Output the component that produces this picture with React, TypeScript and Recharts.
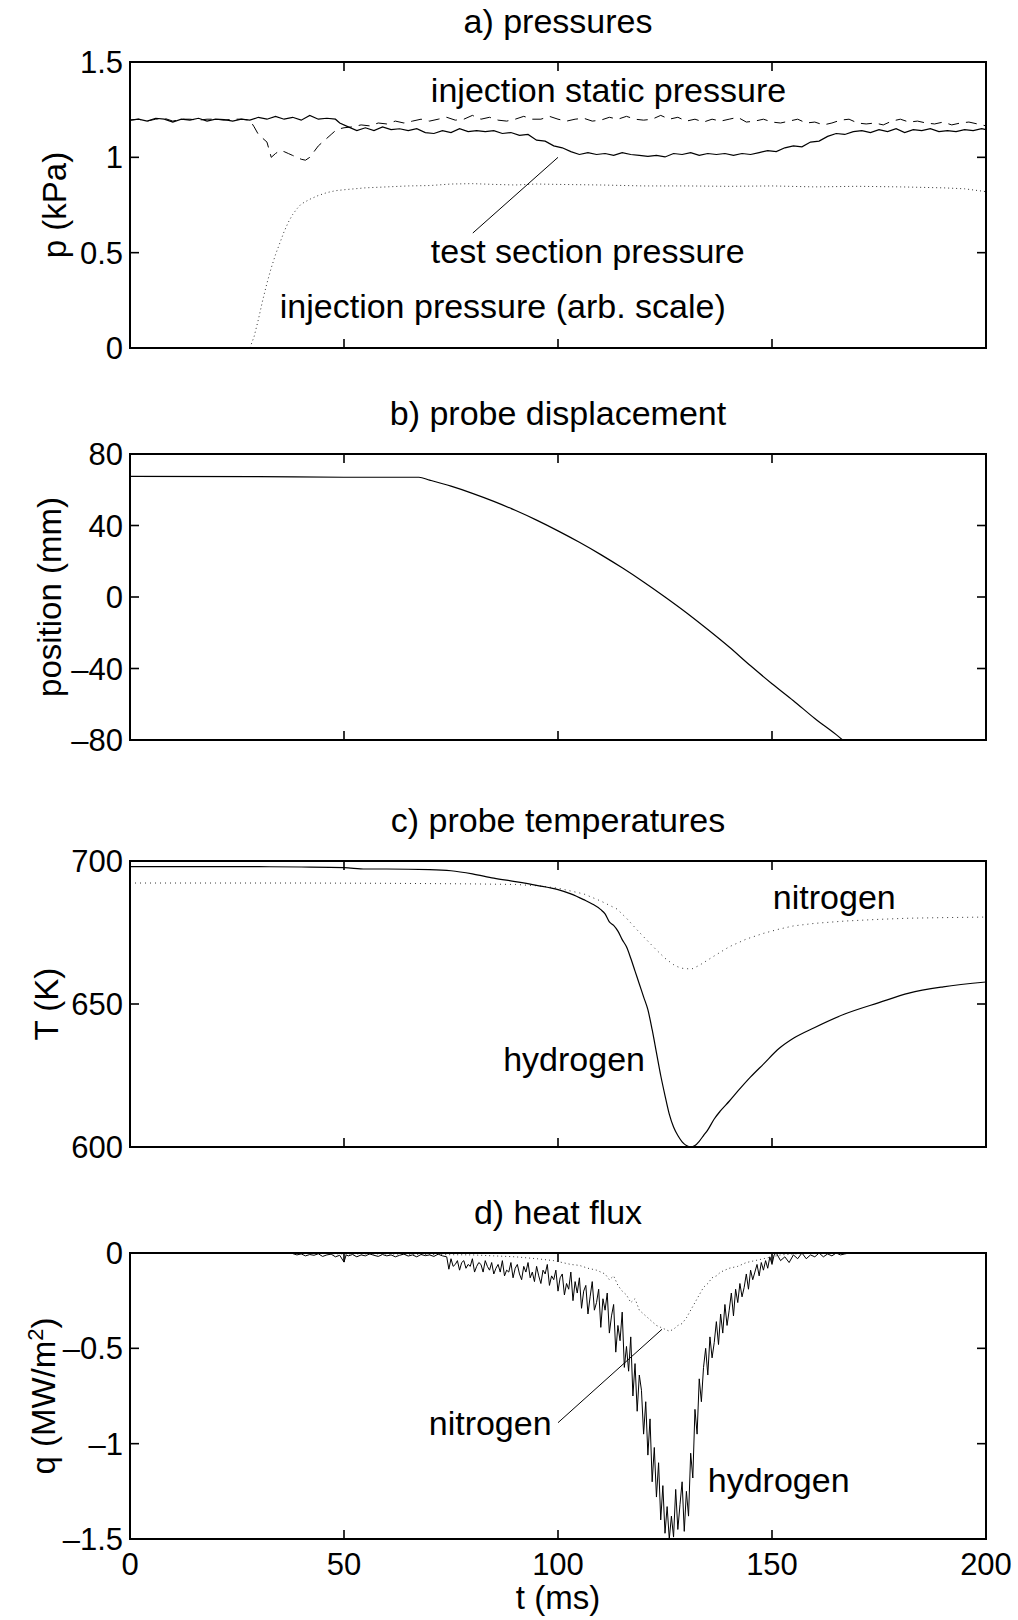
import React from 'react';
import { LineChart, Line, XAxis, YAxis, ReferenceLine, ReferenceDot } from 'recharts';

const FONT = '"Liberation Sans", Arial, Helvetica, sans-serif';

// axis ticks
const timeTicks = [0, 50, 100, 150, 200];
const pressureTicks = [0, 0.5, 1, 1.5];
const positionTicks = [-80, -40, 0, 40, 80];
const tempTicks = [600, 650, 700];
const fluxTicks = [-1.5, -1, -0.5, 0];

// a) pressures  [t (ms), p (kPa)]
const testSection = [
  [0, 1.195], [2, 1.2], [4, 1.19], [6, 1.205], [8, 1.2], [10, 1.185], [12, 1.2], [14, 1.195], [16, 1.205],
  [18, 1.19], [20, 1.2], [22, 1.198], [24, 1.19], [26, 1.2], [28, 1.195], [30, 1.21], [32, 1.2], [34, 1.215],
  [36, 1.2], [38, 1.21], [40, 1.195], [42, 1.22], [44, 1.2], [46, 1.205], [48, 1.2], [49, 1.18], [51, 1.16],
  [53, 1.14], [55, 1.155], [57, 1.14], [59, 1.16], [61, 1.145], [63, 1.15], [65, 1.14], [67, 1.15], [69, 1.13],
  [71, 1.125], [73, 1.14], [75, 1.13], [77, 1.15], [79, 1.135], [81, 1.14], [83, 1.135], [85, 1.14], [87, 1.125],
  [89, 1.13], [91, 1.115], [93, 1.12], [95, 1.09], [97, 1.085], [99, 1.06], [101, 1.05], [103, 1.03], [105, 1.015],
  [107, 1.025], [109, 1.015], [111, 1.02], [113, 1.01], [115, 1.025], [117, 1.015], [119, 1.01], [121, 1.005],
  [123, 1.01], [125, 1.002], [127, 1.02], [129, 1.015], [131, 1.025], [133, 1.01], [135, 1.02], [137, 1.015],
  [139, 1.02], [141, 1.01], [143, 1.02], [145, 1.015], [147, 1.025], [149, 1.035], [151, 1.03], [153, 1.05],
  [155, 1.06], [157, 1.055], [159, 1.08], [161, 1.085], [163, 1.11], [165, 1.125], [167, 1.12], [169, 1.135],
  [171, 1.14], [173, 1.13], [175, 1.145], [177, 1.135], [179, 1.15], [181, 1.13], [183, 1.145], [185, 1.14],
  [187, 1.15], [189, 1.135], [191, 1.14], [193, 1.135], [195, 1.145], [197, 1.14], [199, 1.15], [200, 1.145],
];
const injectionStatic = [
  [0, 1.195], [2, 1.2], [4, 1.19], [6, 1.2], [8, 1.205], [10, 1.19], [12, 1.2], [14, 1.2], [16, 1.195],
  [18, 1.2], [20, 1.2], [22, 1.195], [24, 1.2], [26, 1.2], [28, 1.195], [29, 1.16], [30, 1.12], [31, 1.1],
  [32, 1.08], [33, 1.0], [34, 1.02], [35, 1.035], [36, 1.03], [37, 1.02], [38, 1.01], [39, 1.0], [40, 0.99],
  [41, 0.985], [42, 1.0], [43, 1.03], [44, 1.06], [45, 1.08], [46, 1.1], [47, 1.12], [48, 1.14], [49, 1.15],
  [50, 1.155], [52, 1.16], [54, 1.17], [56, 1.165], [58, 1.18], [60, 1.175], [62, 1.19], [64, 1.18], [66, 1.19],
  [68, 1.2], [70, 1.19], [72, 1.2], [74, 1.21], [76, 1.195], [78, 1.2], [80, 1.22], [82, 1.2], [84, 1.21],
  [86, 1.195], [88, 1.19], [90, 1.2], [92, 1.215], [94, 1.2], [96, 1.2], [98, 1.215], [100, 1.2], [102, 1.19],
  [104, 1.2], [106, 1.205], [108, 1.19], [110, 1.195], [112, 1.21], [114, 1.2], [116, 1.215], [118, 1.2],
  [120, 1.195], [122, 1.2], [124, 1.22], [126, 1.2], [128, 1.21], [130, 1.19], [132, 1.2], [134, 1.185],
  [136, 1.2], [138, 1.19], [140, 1.2], [142, 1.21], [144, 1.185], [146, 1.19], [148, 1.2], [150, 1.185],
  [152, 1.18], [154, 1.19], [156, 1.2], [158, 1.18], [160, 1.185], [162, 1.17], [164, 1.18], [166, 1.195],
  [168, 1.2], [170, 1.18], [172, 1.175], [174, 1.18], [176, 1.17], [178, 1.19], [180, 1.2], [182, 1.185],
  [184, 1.19], [186, 1.18], [188, 1.175], [190, 1.185], [192, 1.17], [194, 1.18], [196, 1.185], [198, 1.175],
  [200, 1.165],
];
const injectionArb = [
  [0, 0], [10, 0], [20, 0], [28, 0], [29, 0.06], [30, 0.15], [31, 0.25], [32, 0.34], [33, 0.42], [34, 0.49],
  [35, 0.55], [36, 0.61], [37, 0.66], [38, 0.7], [39, 0.73], [40, 0.755], [42, 0.78], [44, 0.8], [46, 0.815],
  [48, 0.825], [50, 0.83], [55, 0.84], [60, 0.845], [65, 0.85], [70, 0.852], [75, 0.86], [80, 0.862],
  [85, 0.858], [90, 0.855], [95, 0.86], [100, 0.858], [110, 0.855], [120, 0.85], [130, 0.85], [140, 0.848],
  [150, 0.85], [160, 0.845], [170, 0.848], [180, 0.845], [190, 0.84], [195, 0.835], [200, 0.82],
];

// b) probe displacement  [t (ms), position (mm)]
const probePosition = [
  [0, 67.5], [30, 67.3], [50, 67], [67.5, 67], [70, 65.4], [75, 62], [80, 58], [85, 53.5], [90, 48.5],
  [95, 43], [100, 37], [105, 30.6], [110, 23.7], [115, 16.3], [120, 8.4], [125, 0], [130, -8.8], [135, -18.2],
  [140, -28], [145, -38.5], [150, -48.5], [155, -58], [160, -68], [165, -77], [166.5, -80],
];

// c) probe temperatures  [t (ms), T (K)]
const tempHydrogen = [
  [0, 698], [10, 698], [20, 698], [30, 698], [40, 697.9], [50, 697.7], [55, 697.2], [60, 697.2], [70, 697],
  [75, 696.6], [80, 695.5], [85, 694], [90, 692.8], [95, 691.5], [100, 690], [103, 688.5], [106, 686.5],
  [108, 685], [110, 683], [111, 681.5], [112, 678.7], [113, 677.5], [114, 675.5], [115, 672.5], [116, 670],
  [117, 666], [118, 661.5], [119, 657], [120, 652.5], [121, 648], [122, 641], [123, 633], [124, 625], [125, 618],
  [126, 611.5], [127, 607], [128, 604], [129, 601.8], [130, 600.5], [131, 600], [132, 600.5], [133, 602],
  [134, 604], [135, 606], [136.5, 609.8], [138, 612.7], [140, 616], [142, 619.5], [145, 624.5], [148, 629],
  [151.7, 634.5], [155, 638], [160, 641.8], [167, 646.5], [175, 650.5], [182, 653.8], [190, 656], [200, 657.7],
];
const tempNitrogen = [
  [0, 692.3], [20, 692.3], [40, 692.3], [60, 692.2], [80, 692], [90, 691.8], [95.6, 691.3], [100, 690.5],
  [103, 689.5], [106, 688.5], [110, 686], [113.8, 683.2], [116, 680], [118.3, 676.2], [120, 673.5],
  [122.8, 669.2], [125, 666], [127.4, 663.3], [129, 662.5], [131.2, 662.2], [133, 663.5], [136.5, 666.8],
  [140, 670], [144, 672.7], [148, 674.7], [151.7, 676.2], [155, 677.3], [160, 678.2], [167, 679],
  [175, 679.6], [182, 680], [190, 680.2], [200, 680.4],
];

// d) heat flux  [t (ms), q (MW/m2)]
const fluxHydrogen = [
  [38, -0.003], [39, -0.01], [40, -0.005], [41, -0.015], [42, -0.008], [43, -0.012], [44, -0.004], [45, -0.018],
  [46, -0.01], [47, -0.006], [48, -0.02], [49, -0.012], [50, -0.048], [50.5, -0.01], [51, -0.015], [52, -0.008],
  [53, -0.02], [54, -0.01], [55, -0.015], [56, -0.005], [57, -0.012], [58, -0.018], [59, -0.008], [60, -0.015],
  [61, -0.01], [62, -0.02], [63, -0.012], [64, -0.006], [65, -0.016], [66, -0.01], [67, -0.02], [68, -0.008],
  [69, -0.014], [70, -0.01], [71, -0.018], [72, -0.006], [73, -0.015], [74, -0.02], [74.5, -0.085], [75, -0.03],
  [75.5, -0.07], [76, -0.06], [76.5, -0.04], [77, -0.09], [77.5, -0.05], [78, -0.04], [78.5, -0.08], [79, -0.06],
  [79.5, -0.07], [80, -0.03], [80.5, -0.1], [81, -0.07], [81.5, -0.05], [82, -0.06], [82.5, -0.1], [83, -0.04],
  [83.5, -0.07], [84, -0.09], [84.5, -0.05], [85, -0.11], [85.5, -0.08], [86, -0.06], [86.5, -0.1], [87, -0.04],
  [87.5, -0.12], [88, -0.09], [88.5, -0.1], [89, -0.05], [89.5, -0.13], [90, -0.08], [90.5, -0.06], [91, -0.11],
  [91.5, -0.14], [92, -0.07], [92.5, -0.1], [93, -0.05], [93.5, -0.13], [94, -0.1], [94.5, -0.15], [95, -0.07],
  [95.5, -0.12], [96, -0.16], [96.5, -0.09], [97, -0.11], [97.5, -0.06], [98, -0.17], [98.5, -0.12], [99, -0.14],
  [99.5, -0.09], [100, -0.2], [100.5, -0.13], [101, -0.11], [101.5, -0.22], [102, -0.16], [102.5, -0.19],
  [103, -0.1], [103.5, -0.25], [104, -0.15], [104.5, -0.21], [105, -0.13], [105.5, -0.29], [106, -0.2],
  [106.5, -0.17], [107, -0.32], [107.5, -0.23], [108, -0.15], [108.5, -0.3], [109, -0.26], [109.5, -0.19],
  [110, -0.39], [110.5, -0.24], [111, -0.3], [111.5, -0.21], [112, -0.42], [112.5, -0.33], [113, -0.27],
  [113.5, -0.52], [114, -0.38], [114.5, -0.46], [115, -0.31], [115.5, -0.6], [116, -0.49], [116.5, -0.62],
  [117, -0.44], [117.5, -0.75], [118, -0.58], [118.5, -0.83], [119, -0.64], [119.5, -0.72], [120, -0.95],
  [120.5, -0.78], [121, -1.06], [121.5, -0.87], [122, -1.2], [122.5, -1.02], [123, -1.28], [123.5, -1.1],
  [124, -1.4], [124.5, -1.22], [125, -1.47], [125.5, -1.33], [126, -1.5], [126.5, -1.38], [127, -1.49],
  [127.5, -1.24], [128, -1.45], [128.5, -1.32], [129, -1.2], [129.5, -1.46], [130, -1.25], [130.5, -1.38],
  [131, -1.05], [131.5, -1.18], [132, -0.82], [132.5, -0.95], [133, -0.66], [133.5, -0.78], [134, -0.6],
  [134.5, -0.5], [135, -0.64], [135.5, -0.44], [136, -0.55], [136.5, -0.47], [137, -0.36], [137.5, -0.48],
  [138, -0.32], [138.5, -0.42], [139, -0.27], [139.5, -0.38], [140, -0.3], [140.5, -0.21], [141, -0.33],
  [141.5, -0.19], [142, -0.26], [142.5, -0.16], [143, -0.23], [143.5, -0.18], [144, -0.11], [144.5, -0.19],
  [145, -0.09], [145.5, -0.14], [146, -0.1], [146.5, -0.06], [147, -0.12], [147.5, -0.05], [148, -0.09],
  [148.5, -0.04], [149, -0.08], [149.5, -0.02], [150, -0.06], [150.5, -0.01], [151, 0], [152, -0.04],
  [153, -0.02], [154, -0.05], [155, -0.01], [156, -0.03], [157, 0], [158, -0.03], [159, -0.01], [160, -0.02],
  [161, 0], [162, -0.02], [163, -0.005], [164, -0.015], [165, 0], [166, -0.01], [167, -0.005], [168, 0],
];
const fluxNitrogen = [
  [40, 0], [50, -0.005], [60, -0.005], [70, -0.008], [80, -0.01], [85, -0.015], [90, -0.02], [95, -0.03],
  [99, -0.04], [101, -0.05], [103, -0.06], [105, -0.065], [107, -0.08], [109, -0.09], [111, -0.11],
  [112, -0.14], [113, -0.12], [114, -0.17], [115, -0.2], [116, -0.22], [117, -0.26], [118, -0.24], [119, -0.3],
  [120, -0.32], [121, -0.34], [122, -0.36], [123, -0.38], [124, -0.39], [125, -0.4], [126, -0.41], [127, -0.4],
  [128, -0.38], [129, -0.37], [130, -0.34], [131, -0.3], [132, -0.26], [133, -0.22], [134, -0.18], [135, -0.16],
  [136, -0.13], [137, -0.12], [138, -0.1], [140, -0.08], [142, -0.07], [144, -0.05], [146, -0.04], [148, -0.03],
  [150, -0.02], [152, -0.01], [155, -0.005], [160, 0], [168, 0],
];

// text notes  [t, value, text]
const notesA: [number, number, string][] = [
  [70.3, 1.29, 'injection static pressure'],
  [70.3, 0.445, 'test section pressure'],
  [35, 0.155, 'injection pressure (arb. scale)'],
];
const notesC: [number, number, string][] = [
  [150.2, 683.3, 'nitrogen'],
  [87.2, 626.7, 'hydrogen'],
];
const notesD: [number, number, string][] = [
  [69.8, -0.955, 'nitrogen'],
  [135, -1.252, 'hydrogen'],
];
const leaderA = [{ x: 80.1, y: 0.603 }, { x: 100, y: 1.0 }];
const leaderD = [{ x: 100, y: -0.89 }, { x: 124.3, y: -0.4 }];

const pts = (arr: number[][]) => arr.map(([t, v]) => ({ t, v }));
const fmt = (v: number) => String(v).replace('-', '\u2013');

const W = 1018;
const PLOT_W = 856;
const PLOT_H = 286;
const TOP = 61; // + 1px top axis
const TICK = 9; // inward tick length, px

const yTick = (p: any) => (
  <text x={p.x} y={p.y} dy={11} textAnchor="end" fontSize={31} fontFamily={FONT} fill="#000">
    {fmt(p.payload.value)}
  </text>
);
const xTick = (p: any) => (
  <text x={p.x} y={p.y} dy={26} textAnchor="middle" fontSize={31} fontFamily={FONT} fill="#000">
    {fmt(p.payload.value)}
  </text>
);

const yLabel = (content: React.ReactNode, bx: number) => (p: any) => {
  const vb = p.viewBox;
  const cy = vb.y + vb.height / 2;
  return (
    <text x={bx} y={cy} transform={`rotate(-90 ${bx} ${cy})`} textAnchor="middle" fontSize={33} fontFamily={FONT} fill="#000">
      {content}
    </text>
  );
};

const xLabel = (p: any) => {
  const vb = p.viewBox;
  return (
    <text x={vb.x + vb.width / 2} y={vb.y + 70} textAnchor="middle" fontSize={33} fontFamily={FONT} fill="#000">
      t (ms)
    </text>
  );
};

const axisLine = { stroke: '#000', strokeWidth: 2, strokeLinecap: 'square' as const };

function frame(domain: [number, number], ticks: number[], label: any, showX: boolean) {
  const [lo, hi] = domain;
  const dy = (TICK / PLOT_H) * (hi - lo);
  const dx = (TICK / PLOT_W) * 200;
  const inner = (arr: number[], a: number, b: number) => arr.filter((v) => v !== a && v !== b);
  return [
    <XAxis key="xb" dataKey="t" type="number" domain={[0, 200]} ticks={timeTicks} interval={0}
      allowDataOverflow height={showX ? 80 : 20} axisLine={axisLine} tickLine={false}
      tickSize={0} tickMargin={10} tick={showX ? xTick : false} label={showX ? xLabel : undefined} />,
    <XAxis key="xt" xAxisId="top" orientation="top" type="number" domain={[0, 200]} ticks={timeTicks}
      interval={0} allowDataOverflow height={1} axisLine={axisLine} tickLine={false} tick={false} />,
    <YAxis key="yl" type="number" domain={domain} ticks={ticks} interval={0} allowDataOverflow width={130}
      axisLine={axisLine} tickLine={false} tickSize={0} tickMargin={7} tick={yTick} label={label} />,
    <YAxis key="yr" yAxisId="right" orientation="right" type="number" domain={domain} ticks={ticks}
      interval={0} allowDataOverflow width={1} axisLine={axisLine} tickLine={false} tick={false} />,
    ...inner(timeTicks, 0, 200).flatMap((x) => [
      <ReferenceLine key={`xb${x}`} segment={[{ x, y: lo }, { x, y: lo + dy }]} stroke="#000" strokeWidth={1.6} />,
      <ReferenceLine key={`xt${x}`} segment={[{ x, y: hi }, { x, y: hi - dy }]} stroke="#000" strokeWidth={1.6} />,
    ]),
    ...inner(ticks, lo, hi).flatMap((y) => [
      <ReferenceLine key={`yl${y}`} segment={[{ x: 0, y }, { x: dx, y }]} stroke="#000" strokeWidth={1.6} />,
      <ReferenceLine key={`yr${y}`} segment={[{ x: 200, y }, { x: 200 - dx, y }]} stroke="#000" strokeWidth={1.6} />,
    ]),
  ];
}

function notes(list: [number, number, string][]) {
  return list.map(([x, y, text]) => (
    <ReferenceDot key={text} x={x} y={y} r={0.01} fill="none" stroke="none"
      label={(p: any) => (
        <text x={p.viewBox.x} y={p.viewBox.y} fontSize={34} fontFamily={FONT} fill="#000">{text}</text>
      )} />
  ));
}

const chartBox = (top: number, height: number): React.CSSProperties => ({ position: 'absolute', left: 0, top, width: W, height });
const margin = { top: TOP, right: 31, bottom: 0, left: 0 };

export default function App() {
  const titles: [number, string][] = [
    [33, 'a) pressures'],
    [425, 'b) probe displacement'],
    [832, 'c) probe temperatures'],
    [1224, 'd) heat flux'],
  ];
  return (
    <div style={{ position: 'absolute', left: 0, top: 0, width: W, height: 1620, background: '#fff' }}>
      <svg width={W} height={1620} style={{ position: 'absolute', left: 0, top: 0 }}>
        {titles.map(([y, t]) => (
          <text key={t} x={558} y={y} textAnchor="middle" fontSize={34} fontFamily={FONT} fill="#000">{t}</text>
        ))}
      </svg>

      <div style={chartBox(0, TOP + 1 + PLOT_H + 20)}>
        <LineChart width={W} height={TOP + 1 + PLOT_H + 20} margin={margin}>
          {frame([0, 1.5], pressureTicks, yLabel('p (kPa)', 66), false)}
          <Line data={pts(injectionArb)} dataKey="v" type="linear" stroke="#333" strokeWidth={1}
            strokeDasharray="1 3" dot={false} isAnimationActive={false} />
          <Line data={pts(injectionStatic)} dataKey="v" type="linear" stroke="#000" strokeWidth={1}
            strokeDasharray="11 7" dot={false} isAnimationActive={false} />
          <Line data={pts(testSection)} dataKey="v" type="linear" stroke="#000" strokeWidth={1.2}
            dot={false} isAnimationActive={false} />
          <ReferenceLine segment={leaderA} stroke="#000" strokeWidth={1} />
          {notes(notesA)}
        </LineChart>
      </div>

      <div style={chartBox(454 - TOP - 1, TOP + 1 + PLOT_H + 20)}>
        <LineChart width={W} height={TOP + 1 + PLOT_H + 20} margin={margin}>
          {frame([-80, 80], positionTicks, yLabel('position (mm)', 61), false)}
          <Line data={pts(probePosition)} dataKey="v" type="monotone" stroke="#000" strokeWidth={1.2}
            dot={false} isAnimationActive={false} />
        </LineChart>
      </div>

      <div style={chartBox(861 - TOP - 1, TOP + 1 + PLOT_H + 20)}>
        <LineChart width={W} height={TOP + 1 + PLOT_H + 20} margin={margin}>
          {frame([600, 700], tempTicks, yLabel('T (K)', 58), false)}
          <Line data={pts(tempNitrogen)} dataKey="v" type="linear" stroke="#333" strokeWidth={1}
            strokeDasharray="1 4" dot={false} isAnimationActive={false} />
          <Line data={pts(tempHydrogen)} dataKey="v" type="monotone" stroke="#000" strokeWidth={1.2}
            dot={false} isAnimationActive={false} />
          {notes(notesC)}
        </LineChart>
      </div>

      <div style={chartBox(1253 - TOP - 1, TOP + 1 + PLOT_H + 80)}>
        <LineChart width={W} height={TOP + 1 + PLOT_H + 80} margin={margin}>
          {frame([-1.5, 0], fluxTicks,
            yLabel(<>q (MW/m<tspan dy={-12} fontSize={22}>2</tspan><tspan dy={12}>)</tspan></>, 55), true)}
          <Line data={pts(fluxNitrogen)} dataKey="v" type="linear" stroke="#333" strokeWidth={1}
            strokeDasharray="1 3" dot={false} isAnimationActive={false} />
          <Line data={pts(fluxHydrogen)} dataKey="v" type="linear" stroke="#000" strokeWidth={1}
            dot={false} isAnimationActive={false} />
          <ReferenceLine segment={leaderD} stroke="#000" strokeWidth={1} />
          {notes(notesD)}
        </LineChart>
      </div>
    </div>
  );
}
